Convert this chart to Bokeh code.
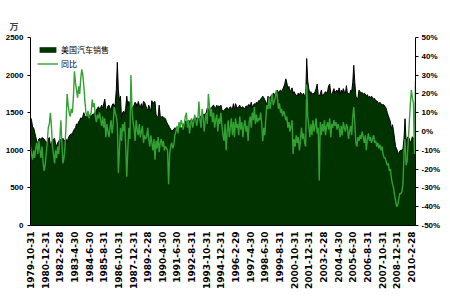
import numpy as np
from bokeh.plotting import figure
from bokeh.models import (Range1d, LinearAxis, FixedTicker, PrintfTickFormatter,
                          Legend, LegendItem, ColumnDataSource)
from bokeh.embed import file_html
from bokeh.resources import INLINE

# Monthly US auto sales (万辆, SAAR) from 1979-10 to 2010-06
sales = (
    [1440, 1400, 1310] +  # 1979
    [1300, 1240, 1180, 1120, 1100, 1150, 1160, 1140, 1170, 1160, 1150, 1130] +  # 1980
    [1100, 1120, 1150, 1170, 1070, 1090, 1130, 1150, 1160, 1080, 1060, 1100] +  # 1981
    [1120, 1150, 1140, 1130, 1160, 1120, 1140, 1150, 1100, 1160, 1190, 1210] +  # 1982
    [1220, 1210, 1260, 1280, 1300, 1350, 1340, 1380, 1400, 1430, 1420, 1450] +  # 1983
    [1500, 1460, 1430, 1480, 1500, 1450, 1470, 1440, 1480, 1460, 1500, 1490] +  # 1984
    [1540, 1560, 1580, 1550, 1570, 1600, 1560, 1620, 1680, 1560, 1530, 1590] +  # 1985
    [1600, 1560, 1540, 1600, 1620, 1580, 1620, 1800, 2170, 1800, 1660, 1720] +  # 1986
    [1420, 1500, 1520, 1490, 1560, 1720, 1600, 1650, 1620, 1540, 1560, 1580] +  # 1987
    [1600, 1640, 1620, 1580, 1650, 1600, 1570, 1620, 1560, 1650, 1640, 1600] +  # 1988
    [1560, 1530, 1600, 1560, 1520, 1660, 1620, 1640, 1650, 1480, 1440, 1450] +  # 1989
    [1600, 1460, 1440, 1450, 1440, 1430, 1420, 1380, 1350, 1330, 1300, 1280] +  # 1990
    [1250, 1270, 1280, 1300, 1290, 1310, 1300, 1320, 1310, 1300, 1290, 1330] +  # 1991
    [1360, 1390, 1380, 1370, 1400, 1390, 1400, 1410, 1380, 1420, 1430, 1440] +  # 1992
    [1420, 1430, 1410, 1440, 1460, 1450, 1480, 1470, 1490, 1500, 1560, 1520] +  # 1993
    [1580, 1540, 1560, 1590, 1600, 1570, 1560, 1600, 1580, 1590, 1580, 1600] +  # 1994
    [1540, 1520, 1530, 1550, 1560, 1570, 1540, 1560, 1580, 1560, 1550, 1620] +  # 1995
    [1540, 1620, 1580, 1560, 1580, 1600, 1560, 1570, 1580, 1550, 1560, 1590] +  # 1996
    [1580, 1600, 1610, 1580, 1640, 1570, 1600, 1620, 1610, 1640, 1620, 1660] +  # 1997
    [1660, 1680, 1700, 1720, 1700, 1670, 1640, 1600, 1720, 1700, 1690, 1730] +  # 1998
    [1720, 1760, 1750, 1740, 1780, 1800, 1760, 1790, 1800, 1780, 1810, 1840] +  # 1999
    [1880, 1950, 1900, 1820, 1850, 1780, 1800, 1830, 1760, 1780, 1750, 1720] +  # 2000
    [1740, 1760, 1730, 1770, 1750, 1740, 1760, 1720, 1680, 2220, 1920, 1820] +  # 2001
    [1760, 1780, 1740, 1760, 1750, 1780, 1820, 1880, 1740, 1720, 1750, 1800] +  # 2002
    [1720, 1740, 1760, 1780, 1760, 1790, 1860, 1880, 1760, 1740, 1780, 1820] +  # 2003
    [1760, 1790, 1800, 1760, 1830, 1740, 1800, 1760, 1820, 1780, 1760, 1860] +  # 2004
    [1740, 1760, 1740, 1800, 1780, 1900, 2130, 1900, 1720, 1680, 1700, 1800] +  # 2005
    [1780, 1760, 1770, 1740, 1760, 1750, 1720, 1740, 1700, 1720, 1700, 1720] +  # 2006
    [1700, 1680, 1690, 1650, 1660, 1640, 1620, 1640, 1620, 1600, 1610, 1600] +  # 2007
    [1580, 1560, 1500, 1460, 1420, 1380, 1280, 1340, 1260, 1150, 1050, 1020] +  # 2008
    [970, 960, 990, 1000, 1000, 1020, 1150, 1420, 1120, 1160, 1180, 1160] +  # 2009
    [1100, 1130, 1180, 1150, 1170, 1130]  # 2010
)

# Year-on-year change (%)
yoy = (
    [-8, -12, -15] +  # 1979
    [-10, -14, -9, -6, -12, -5, -10, -14, -8, -16, -21, -18] +  # 1980
    [-12, -6, 2, 4, 10, 3, -8, -12, -17, -10, -14, -8] +  # 1981
    [-12, -4, 6, -6, -17, -14, -8, 4, 20, 14, 10, 8] +  # 1982
    [12, 10, 18, 32, 26, 22, 18, 24, 20, 28, 33, 30] +  # 1983
    [24, 16, 10, 8, 11, 7, 9, 10, 17, 13, 15, 8] +  # 1984
    [5, 9, 7, 10, 6, 3, 8, 2, 7, -3, 4, 0] +  # 1985
    [-3, 2, 6, -1, 4, 13, 10, 8, 4, -22, -10, 2] +  # 1986
    [-5, 4, 0, 5, -8, -24, -10, 2, -4, 30, 12, 5] +  # 1987
    [2, -5, 6, 1, -2, 4, -3, 0, 3, -6, -2, -4] +  # 1988
    [-3, 2, -4, -8, -2, -6, -10, -4, -15, -5, -9, -3] +  # 1989
    [-11, -6, -4, -8, -5, -10, -8, -9, -10, -28, -12, -8] +  # 1990
    [-6, -9, -7, -2, 0, 3, -1, 5, 2, 6, 4, 1] +  # 1991
    [4, 8, 10, 2, 6, -1, 4, 7, 2, 5, 9, 6] +  # 1992
    [3, 7, 16, 6, 2, 12, 8, 0, 6, 10, 4, 20] +  # 1993
    [14, 8, 12, 5, 10, 2, 6, 9, 0, 7, 4, 10] +  # 1994
    [3, -2, -5, 4, -10, 0, 6, -3, 2, 7, -2, 5] +  # 1995
    [-3, 7, 2, 4, -2, 8, 1, 5, -3, 3, 6, 0] +  # 1996
    [3, -5, 5, 8, 2, 10, 6, 13, 4, 9, 5, 7] +  # 1997
    [6, 10, 4, -5, 2, -2, 8, 14, 12, 18, 12, 16] +  # 1998
    [20, 14, 16, 18, 22, 18, 12, 15, 10, 12, 8, 11] +  # 1999
    [9, 6, 8, 2, 5, 0, 3, 6, -12, -4, -8, -2] +  # 2000
    [-6, -3, -10, -5, 2, -4, -1, -6, -8, 25, 8, 3] +  # 2001
    [-3, 4, -2, 6, 0, 3, 7, -1, 2, -26, 5, -2] +  # 2002
    [4, 0, 6, -2, 3, 5, 1, 7, -3, 4, 2, 6] +  # 2003
    [3, 5, 1, 4, 2, -3, 3, -2, 5, 2, 0, 4] +  # 2004
    [2, -4, 0, 3, -2, 8, 13, 4, -6, -8, -3, -5] +  # 2005
    [-2, -4, 0, -3, -6, -2, -10, -4, -1, -5, -3, -6] +  # 2006
    [-4, -2, -6, -5, -8, -6, -9, -7, -10, -8, -12, -14] +  # 2007
    [-14, -16, -18, -17, -21, -20, -25, -28, -30, -34, -37, -40] +  # 2008
    [-39, -36, -33, -33, -32, -28, -12, -4, -18, -16, -6, 4] +  # 2009
    [14, 22, 18, 15, -12, 27]  # 2010
)

tick_labels = ["1979-10-31", "1980-12-31", "1982-2-28", "1983-4-30", "1984-6-30",
               "1985-8-31", "1986-10-31", "1987-12-31", "1989-2-28", "1990-4-30",
               "1991-6-30", "1992-8-31", "1993-10-31", "1994-12-31", "1996-2-29",
               "1997-4-30", "1998-6-30", "1999-8-31", "2000-10-31", "2001-12-31",
               "2003-2-28", "2004-4-30", "2005-6-30", "2006-8-31", "2007-10-31",
               "2008-12-31", "2010-2-28"]
tick_every = 14
left_ticks = [0, 500, 1000, 1500, 2000, 2500]
right_ticks = [-50, -40, -30, -20, -10, 0, 10, 20, 30, 40, 50]

assert len(sales) == len(yoy)
n = len(sales)
months = list(range(n))
tick_pos = [i * tick_every for i in range(len(tick_labels))]

p = figure(width=450, height=300, output_backend="svg", toolbar_location=None,
           x_range=Range1d(0, n - 1), y_range=Range1d(0, 2500),
           min_border_left=30, min_border_right=35, min_border_top=37,
           min_border_bottom=75)
p.outline_line_color = None
p.xgrid.visible = False
p.ygrid.visible = False
p.extra_y_ranges = {"pct": Range1d(-50, 50)}

# unit label "万" in the top-left corner
p.title.text = "万"
p.title.align = "left"
p.title.offset = -21
p.title.text_font = "Noto Sans CJK SC"
p.title.text_font_size = "9px"
p.title.text_font_style = "bold"
p.title.standoff = 10

src = ColumnDataSource(dict(m=months, sales=sales, yoy=yoy))
area = p.varea(x="m", y1=0, y2="sales", source=src, fill_color="#003300")
p.line(x="m", y="sales", source=src, line_color="black", line_width=1)
ln = p.line(x="m", y="yoy", source=src, y_range_name="pct",
            line_color="#33a033", line_width=1.4)

# x axis
xa = p.xaxis[0]
xa.ticker = FixedTicker(ticks=tick_pos)
xa.major_label_overrides = {t: l for t, l in zip(tick_pos, tick_labels)}
xa.major_label_orientation = np.pi / 2
xa.major_label_text_font = "DejaVu Sans"
xa.major_label_text_font_style = "bold"
xa.major_label_text_font_size = "9px"
xa.major_label_text_color = "black"
xa.major_tick_out = 0
xa.major_tick_in = 0
xa.minor_tick_out = 0
xa.minor_tick_in = 0
xa.major_label_standoff = 6
xa.axis_line_color = "black"

# left axis
ya = p.yaxis[0]
ya.ticker = FixedTicker(ticks=left_ticks)
ya.major_label_text_font = "Liberation Sans"
ya.major_label_text_font_style = "bold"
ya.major_label_text_font_size = "8px"
ya.major_label_text_color = "black"
ya.major_tick_out = 3
ya.major_tick_in = 0
ya.minor_tick_out = 0
ya.minor_tick_in = 0
ya.major_label_standoff = 4
ya.axis_line_color = "black"

# right axis
ra = LinearAxis(y_range_name="pct", ticker=FixedTicker(ticks=right_ticks),
                formatter=PrintfTickFormatter(format="%d%%"))
ra.major_label_text_font = "Liberation Sans"
ra.major_label_text_font_style = "bold"
ra.major_label_text_font_size = "8px"
ra.major_label_text_color = "black"
ra.major_tick_out = 3
ra.major_tick_in = 0
ra.minor_tick_out = 0
ra.minor_tick_in = 0
ra.major_label_standoff = 3
ra.axis_line_color = "black"
p.add_layout(ra, "right")

legend = Legend(items=[LegendItem(label="美国汽车销售", renderers=[area]),
                       LegendItem(label="同比", renderers=[ln])],
                location="top_left")
legend.background_fill_alpha = 0
legend.border_line_alpha = 0
legend.margin = 0
legend.padding = 7
legend.spacing = 3
legend.glyph_width = 21
legend.glyph_height = 7
legend.label_height = 7
legend.label_standoff = 3
legend.label_text_font = "Noto Sans CJK SC"
legend.label_text_font_size = "8px"
legend.label_text_color = "black"
p.add_layout(legend)

open("out.html", "w").write(file_html(p, INLINE))
